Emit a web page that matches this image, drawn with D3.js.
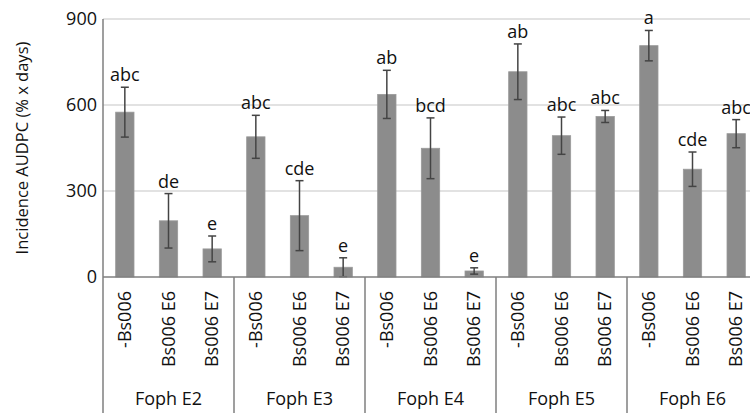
<!DOCTYPE html>
<html>
<head>
<meta charset="utf-8">
<script src="https://cdn.jsdelivr.net/npm/d3@7"></script>
<style>
  body { margin: 0; background: #fff; }
  text { font-family: "Open Sans", sans-serif; fill: #111; }
</style>
</head>
<body>
<div id="chart"></div>
<script>
var groups = ["Foph E2", "Foph E3", "Foph E4", "Foph E5", "Foph E6"];
var treatments = ["-Bs006", "Bs006 E6", "Bs006 E7"];
var means = [
  [575, 196, 98],
  [489, 214, 34],
  [637, 449, 21],
  [716, 493, 560],
  [807, 376, 500]
];
var errs = [
  [87, 95, 45],
  [75, 122, 33],
  [84, 106, 11],
  [97, 65, 21],
  [53, 60, 49]
];
var letters = [
  ["abc", "de", "e"],
  ["abc", "cde", "e"],
  ["ab", "bcd", "e"],
  ["ab", "abc", "abc"],
  ["a", "cde", "abc"]
];
var yTicks = [0, 300, 600, 900];

var width = 750, height = 413;
var plotLeft = 103, plotRight = 758, plotTop = 19, plotBottom = 277;

var data = [];
groups.forEach(function(g, gi) {
  treatments.forEach(function(t, ti) {
    data.push({ key: g + "|" + t, group: g, treat: t,
      mean: means[gi][ti], err: errs[gi][ti], letter: letters[gi][ti] });
  });
});

var svg = d3.select("#chart").append("svg")
  .attr("width", width)
  .attr("height", height);

var x = d3.scaleBand()
  .domain(data.map(function(d) { return d.key; }))
  .range([plotLeft, plotRight])
  .paddingInner(0.58)
  .paddingOuter(0.29);

var xg = d3.scaleBand()
  .domain(groups)
  .range([plotLeft, plotRight]);

var y = d3.scaleLinear()
  .domain([0, 900])
  .range([plotBottom, plotTop]);

// gridlines
svg.append("g")
  .selectAll("line")
  .data(yTicks.filter(function(t) { return t > 0; }))
  .enter().append("line")
  .attr("x1", plotLeft).attr("x2", width)
  .attr("y1", function(d) { return y(d); })
  .attr("y2", function(d) { return y(d); })
  .attr("stroke", "#d9d9d9")
  .attr("stroke-width", 1.5);

// y tick labels
svg.append("g")
  .selectAll("text")
  .data(yTicks)
  .enter().append("text")
  .attr("x", plotLeft - 6)
  .attr("y", function(d) { return y(d); })
  .attr("dy", "0.35em")
  .style("text-anchor", "end")
  .style("font-size", "18px")
  .text(function(d) { return d; });

// y axis title
svg.append("text")
  .attr("transform", "translate(28," + ((plotTop + plotBottom) / 2) + ") rotate(-90)")
  .style("text-anchor", "middle")
  .style("font-size", "16.5px")
  .text("Incidence AUDPC (% x days)");

// bars
svg.append("g")
  .selectAll("rect")
  .data(data)
  .enter().append("rect")
  .attr("x", function(d) { return x(d.key); })
  .attr("width", x.bandwidth())
  .attr("y", function(d) { return y(d.mean); })
  .attr("height", function(d) { return y(0) - y(d.mean); })
  .attr("fill", "#8c8c8c")
  .attr("stroke", "#9a9a9a")
  .attr("stroke-width", 0.8);

// error bars
var eb = svg.append("g")
  .attr("stroke", "#444")
  .attr("stroke-width", 1.5);
data.forEach(function(d) {
  var cx = x(d.key) + x.bandwidth() / 2;
  var lo = Math.max(0, d.mean - d.err), hi = d.mean + d.err;
  eb.append("line").attr("x1", cx).attr("x2", cx).attr("y1", y(lo)).attr("y2", y(hi));
  eb.append("line").attr("x1", cx - 4).attr("x2", cx + 4).attr("y1", y(hi)).attr("y2", y(hi));
  eb.append("line").attr("x1", cx - 4).attr("x2", cx + 4).attr("y1", y(lo)).attr("y2", y(lo));
});

// letters
svg.append("g")
  .selectAll("text")
  .data(data)
  .enter().append("text")
  .attr("x", function(d) { return x(d.key) + x.bandwidth() / 2; })
  .attr("y", function(d) { return y(d.mean + d.err) - 6; })
  .style("text-anchor", "middle")
  .style("font-size", "18px")
  .text(function(d) { return d.letter; });

// axes lines
svg.append("line")
  .attr("x1", plotLeft).attr("x2", plotLeft)
  .attr("y1", plotTop).attr("y2", height)
  .attr("stroke", "#7f7f7f").attr("stroke-width", 1.5);
svg.append("line")
  .attr("x1", plotLeft).attr("x2", width)
  .attr("y1", plotBottom).attr("y2", plotBottom)
  .attr("stroke", "#7f7f7f").attr("stroke-width", 1.5);

// group separators
svg.append("g")
  .selectAll("line")
  .data(groups.slice(1))
  .enter().append("line")
  .attr("x1", function(d) { return xg(d); })
  .attr("x2", function(d) { return xg(d); })
  .attr("y1", plotBottom).attr("y2", height)
  .attr("stroke", "#7f7f7f").attr("stroke-width", 1.5);

// treatment labels (rotated)
svg.append("g")
  .selectAll("text")
  .data(data)
  .enter().append("text")
  .attr("transform", function(d) {
    return "translate(" + (x(d.key) + x.bandwidth() / 2) + "," + (plotBottom + 14) + ") rotate(-90)";
  })
  .attr("dy", "0.35em")
  .style("text-anchor", "end")
  .style("font-size", "18px")
  .text(function(d) { return d.treat; });

// group labels
svg.append("g")
  .selectAll("text")
  .data(groups)
  .enter().append("text")
  .attr("x", function(d) { return xg(d) + xg.bandwidth() / 2; })
  .attr("y", 405)
  .style("text-anchor", "middle")
  .style("font-size", "18px")
  .text(function(d) { return d; });
</script>
</body>
</html>
